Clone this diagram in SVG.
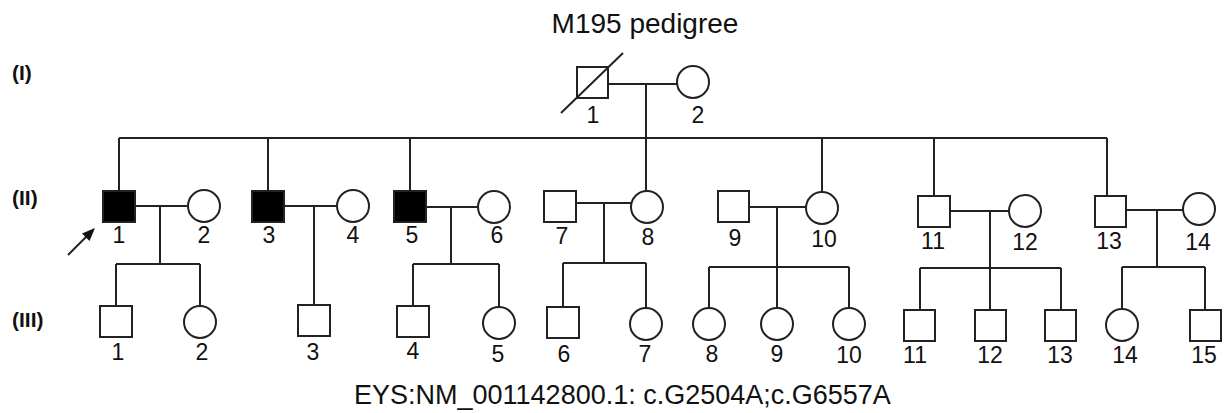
<svg xmlns="http://www.w3.org/2000/svg" width="1227" height="413" viewBox="0 0 1227 413">
<style>
.ln{stroke:#222;stroke-width:2;fill:none}
.a{fill:#000;stroke:#222;stroke-width:2}
.f{fill:#fff;stroke:#222;stroke-width:2}
text{font-family:"Liberation Sans",Arial,sans-serif;fill:#111}
.n{font-size:23px;text-anchor:middle}
.g{font-size:21px;font-weight:bold}
.t{font-size:28px}
.b{font-size:27px}
</style>
<rect width="1227" height="413" fill="#fff"/>
<text class="t" x="645" y="33" text-anchor="middle">M195 pedigree</text>
<g id="gen-labels">
<text class="g" x="12" y="80">(I)</text>
<text class="g" x="12" y="205">(II)</text>
<text class="g" x="12" y="327">(III)</text>
</g>
<g id="connectors">
<path class="ln" d="M608 84H677M646 84V191"/>
<path class="ln" d="M119 138H1107M119 138V191M268 138V191M410 138V191M822 138V192M934 138V196M1107 138V196"/>
<path class="ln" d="M135 206H188M160 206V264M116 264H200M116 264V306M200 264V306"/>
<path class="ln" d="M284 206H337M314 206V305"/>
<path class="ln" d="M426 207H478M451 207V264M413 264H499M413 264V306M499 264V307"/>
<path class="ln" d="M576 203H631M604 203V263M563 263H646M563 263V307M646 263V308"/>
<path class="ln" d="M750 207H806M777 207V308M709 267H849M709 267V308M849 267V308"/>
<path class="ln" d="M950 211H1009M990 211V310M920 268H1061M920 268V310M1061 268V310"/>
<path class="ln" d="M1126 210H1183M1157 210V267M1122 267H1205M1122 267V309M1205 267V310"/>
<line class="ln" x1="68" y1="255" x2="87" y2="236"/>
<polygon points="95,228 89.5,241 82,233.5" fill="#111"/>
</g>
<g id="I-1"><rect class="f" x="577" y="67" width="31" height="31"/><line class="ln" x1="561" y1="113" x2="623" y2="53"/><text class="n" x="593" y="123">1</text></g>
<g id="I-2"><circle class="f" cx="693" cy="82" r="16"/><text class="n" x="698" y="123">2</text></g>
<g id="II-1"><rect class="a" x="103" y="191" width="32" height="31"/><text class="n" x="119" y="243">1</text></g>
<g id="II-2"><circle class="f" cx="204" cy="206" r="16"/><text class="n" x="204" y="243">2</text></g>
<g id="II-3"><rect class="a" x="252" y="191" width="32" height="31"/><text class="n" x="269" y="243">3</text></g>
<g id="II-4"><circle class="f" cx="353" cy="206" r="16"/><text class="n" x="353" y="243">4</text></g>
<g id="II-5"><rect class="a" x="394" y="191" width="32" height="31"/><text class="n" x="412" y="243">5</text></g>
<g id="II-6"><circle class="f" cx="494" cy="207" r="16"/><text class="n" x="497" y="243">6</text></g>
<g id="II-7"><rect class="f" x="544" y="191" width="32" height="31"/><text class="n" x="562" y="244">7</text></g>
<g id="II-8"><circle class="f" cx="647" cy="207" r="16"/><text class="n" x="648" y="245">8</text></g>
<g id="II-9"><rect class="f" x="718" y="191" width="31" height="31"/><text class="n" x="735" y="246">9</text></g>
<g id="II-10"><circle class="f" cx="822" cy="208" r="16"/><text class="n" x="824" y="247">10</text></g>
<g id="II-11"><rect class="f" x="918" y="196" width="32" height="31"/><text class="n" x="933" y="249">11</text></g>
<g id="II-12"><circle class="f" cx="1025" cy="211" r="16"/><text class="n" x="1025" y="250">12</text></g>
<g id="II-13"><rect class="f" x="1095" y="196" width="31" height="31"/><text class="n" x="1109" y="249">13</text></g>
<g id="II-14"><circle class="f" cx="1199" cy="209" r="16"/><text class="n" x="1198" y="250">14</text></g>
<g id="III-1"><rect class="f" x="100" y="306" width="32" height="31"/><text class="n" x="118" y="360">1</text></g>
<g id="III-2"><circle class="f" cx="200" cy="322" r="16"/><text class="n" x="202" y="360">2</text></g>
<g id="III-3"><rect class="f" x="298" y="305" width="32" height="31"/><text class="n" x="313" y="360">3</text></g>
<g id="III-4"><rect class="f" x="397" y="306" width="32" height="31"/><text class="n" x="413" y="359">4</text></g>
<g id="III-5"><circle class="f" cx="499" cy="323" r="16"/><text class="n" x="498" y="362">5</text></g>
<g id="III-6"><rect class="f" x="547" y="307" width="32" height="31"/><text class="n" x="564" y="362">6</text></g>
<g id="III-7"><circle class="f" cx="646" cy="324" r="16"/><text class="n" x="645" y="362">7</text></g>
<g id="III-8"><circle class="f" cx="709" cy="324" r="16"/><text class="n" x="712" y="362">8</text></g>
<g id="III-9"><circle class="f" cx="777" cy="324" r="16"/><text class="n" x="777" y="362">9</text></g>
<g id="III-10"><circle class="f" cx="849" cy="324" r="16"/><text class="n" x="849" y="363">10</text></g>
<g id="III-11"><rect class="f" x="904" y="310" width="31" height="31"/><text class="n" x="915" y="363">11</text></g>
<g id="III-12"><rect class="f" x="975" y="310" width="31" height="31"/><text class="n" x="990" y="363">12</text></g>
<g id="III-13"><rect class="f" x="1045" y="310" width="31" height="31"/><text class="n" x="1060" y="363">13</text></g>
<g id="III-14"><circle class="f" cx="1122" cy="325" r="16"/><text class="n" x="1125" y="363">14</text></g>
<g id="III-15"><rect class="f" x="1190" y="310" width="31" height="31"/><text class="n" x="1204" y="363">15</text></g>
<text class="b" x="354" y="404">EYS:NM_001142800.1: c.G2504A;c.G6557A</text>
</svg>
